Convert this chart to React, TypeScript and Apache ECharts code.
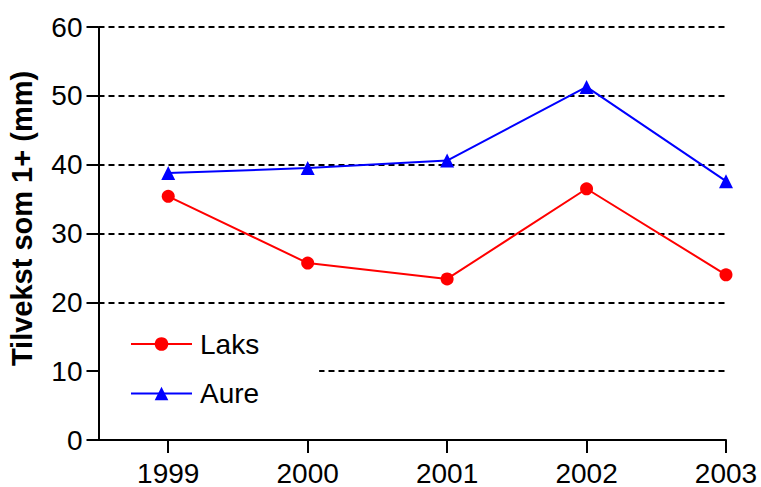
import React, { useEffect, useRef } from "react";
import * as echarts from "echarts";

const years = [1999, 2000, 2001, 2002, 2003];
const laks = [35.4, 25.7, 23.4, 36.5, 24.0];
const aure = [38.8, 39.5, 40.6, 51.3, 37.6];
const yTicks = [0, 10, 20, 30, 40, 50, 60];
const yTitle = "Tilvekst som 1+ (mm)";

const FONT = "'Liberation Sans', Arial, Helvetica, sans-serif";

export default function App() {
  const ref = useRef<HTMLDivElement>(null);
  useEffect(() => {
    if (!ref.current) return;
    const chart = echarts.init(ref.current, null, { renderer: "svg" });
    chart.setOption({
      animation: false,
      backgroundColor: "#fff",
      grid: { left: 98.5, right: 35, top: 27, bottom: 45, containLabel: false },
      graphic: [
        {
          type: "text",
          x: 22,
          y: 218.5,
          rotation: Math.PI / 2,
          style: {
            text: yTitle,
            fontSize: 29,
            fontWeight: "bold",
            fill: "#000",
            fontFamily: FONT,
            textAlign: "center",
            textVerticalAlign: "middle",
          },
        },
      ],
      xAxis: {
        type: "value",
        min: 1998.5,
        max: 2003,
        axisLine: { show: true, onZero: false, lineStyle: { color: "#000", width: 2 } },
        axisTick: { show: true, customValues: years, length: 13, lineStyle: { color: "#000", width: 2 } },
        axisLabel: {
          customValues: years,
          margin: 19,
          fontSize: 28,
          color: "#000",
          fontFamily: FONT,
          formatter: (v: number) => String(v),
        },
        splitLine: { show: false },
      },
      yAxis: {
        type: "value",
        min: yTicks[0],
        max: yTicks[yTicks.length - 1],
        interval: 10,
        axisLine: { show: true, lineStyle: { color: "#000", width: 2 } },
        axisTick: { show: true, length: 12, lineStyle: { color: "#000", width: 2 } },
        axisLabel: { margin: 16, fontSize: 28, color: "#000", fontFamily: FONT },
        splitLine: { show: true, lineStyle: { color: "#000", width: 2, type: [6, 4] } },
      },
      legend: {
        orient: "vertical",
        left: 100,
        top: 309,
        padding: [20, 60, 20, 30],
        backgroundColor: "#fff",
        itemWidth: 61,
        itemHeight: 17,
        itemGap: 19.5,
        textStyle: { fontSize: 28, color: "#000", fontFamily: FONT, lineHeight: 30, padding: [0, 0, 0, 3] },
        data: ["Laks", "Aure"],
        z: 10,
      },
      series: [
        {
          name: "Laks",
          type: "line",
          data: years.map((y, i) => [y, laks[i]]),
          symbol: "circle",
          symbolSize: 13,
          color: "#ff0000",
          lineStyle: { color: "#ff0000", width: 2 },
          itemStyle: { color: "#ff0000" },
          z: 3,
        },
        {
          name: "Aure",
          type: "line",
          data: years.map((y, i) => [y, aure[i]]),
          symbol: "triangle",
          symbolSize: 14,
          color: "#0000ff",
          lineStyle: { color: "#0000ff", width: 2 },
          itemStyle: { color: "#0000ff" },
          z: 3,
        },
      ],
    });
    return () => chart.dispose();
  }, []);
  return <div ref={ref} style={{ width: 761, height: 487, position: "absolute", left: 0, top: 0 }} />;
}
